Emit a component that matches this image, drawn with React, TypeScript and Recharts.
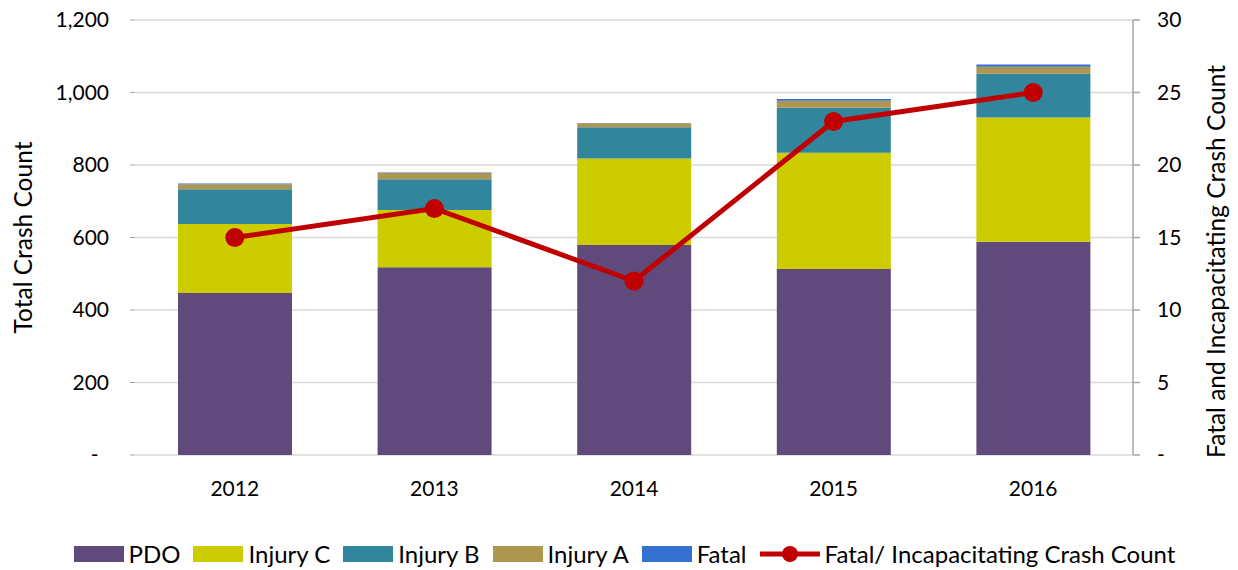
import {
  ComposedChart,
  Bar,
  Line,
  XAxis,
  YAxis,
  CartesianGrid,
  Legend,
} from 'recharts';

const years = ['2012', '2013', '2014', '2015', '2016'];
const pdo = [447, 518, 579, 513, 588];
const injuryC = [190, 158, 239, 321, 343];
const injuryB = [96, 85, 86, 124, 121];
const injuryA = [14, 17, 11, 19, 19];
const fatal = [2, 1, 1, 5, 6];
const fatalIncap = [15, 17, 12, 23, 25];

const leftTicks = [0, 200, 400, 600, 800, 1000, 1200];
const rightTicks = [0, 5, 10, 15, 20, 25, 30];
const boundTicks = [0, 1, 2, 3, 4, 5];

const FONT = 'Lato, "Open Sans", sans-serif';
const AXIS_GRAY = '#A6A6A6';
const GRID_GRAY = '#D9D9D9';

const barSeries = [
  { key: 'pdo', name: 'PDO', color: '#604A7B' },
  { key: 'injuryC', name: 'Injury C', color: '#CCCC00' },
  { key: 'injuryB', name: 'Injury B', color: '#31859C' },
  { key: 'injuryA', name: 'Injury A', color: '#AC9650' },
  { key: 'fatal', name: 'Fatal', color: '#3370D0' },
];
const lineColor = '#C00000';
const lineName = 'Fatal/ Incapacitating Crash Count';

const data = years.map((year, i) => ({
  year,
  pdo: pdo[i],
  injuryC: injuryC[i],
  injuryB: injuryB[i],
  injuryA: injuryA[i],
  fatal: fatal[i],
  fatalIncap: fatalIncap[i],
}));

const tickStyle = { fontSize: 21, fill: '#000', fontFamily: FONT };

function dashZero(v: number) {
  return v === 0 ? '-\u2002' : v.toLocaleString('en-US');
}

function SideLabel({ viewBox, value, dx, dy }: any) {
  const cx = viewBox.x + dx;
  const cy = viewBox.y + viewBox.height / 2 + (dy || 0);
  return (
    <text
      x={cx}
      y={cy}
      transform={`rotate(-90, ${cx}, ${cy})`}
      textAnchor="middle"
      dominantBaseline="central"
      style={{ fontSize: 24.5, fontFamily: FONT, fill: '#000' }}
    >
      {value}
    </text>
  );
}

function LegendContent() {
  const item = { display: 'flex', alignItems: 'center', marginRight: 13 } as const;
  return (
    <div
      style={{
        display: 'flex',
        justifyContent: 'center',
        alignItems: 'center',
        height: 55,
        paddingTop: 22,
        boxSizing: 'border-box',
        fontFamily: FONT,
        fontSize: 24,
        color: '#000',
        paddingLeft: 24,
        whiteSpace: 'nowrap',
      }}
    >
      {barSeries.map((s) => (
        <div key={s.key} style={item}>
          <span style={{ width: 50, height: 16, background: s.color, marginRight: 5 }} />
          <span>{s.name}</span>
        </div>
      ))}
      <div style={item}>
        <svg width={60} height={20} style={{ marginRight: 5 }}>
          <line x1={0} y1={10} x2={60} y2={10} stroke={lineColor} strokeWidth={5} />
          <circle cx={30} cy={10} r={8} fill={lineColor} />
        </svg>
        <span>{lineName}</span>
      </div>
    </div>
  );
}

export default function App() {
  return (
    <div style={{ position: 'absolute', left: 0, top: 0, background: '#fff' }}>
      <ComposedChart
        width={1238}
        height={570}
        data={data}
        margin={{ top: 20, right: 0, left: 0, bottom: 0 }}
      >
        <CartesianGrid
          yAxisId="left"
          vertical={false}
          stroke={GRID_GRAY}
          strokeWidth={1.5}
        />
        <XAxis
          xAxisId="bounds"
          type="number"
          dataKey={() => 0}
          domain={[0, years.length]}
          ticks={boundTicks}
          tick={false}
          height={0}
          axisLine={{ stroke: AXIS_GRAY, strokeWidth: 1.5 }}
          tickLine={{ stroke: AXIS_GRAY, strokeWidth: 1.5 }}
          tickSize={7}
        />
        <XAxis
          dataKey="year"
          height={60}
          axisLine={false}
          tickLine={false}
          tickMargin={20}
          tick={tickStyle}
        />
        <YAxis
          yAxisId="left"
          width={135}
          domain={[0, 1200]}
          ticks={leftTicks}
          tickFormatter={dashZero}
          axisLine={false}
          tickLine={{ stroke: AXIS_GRAY }}
          tickSize={5}
          tickMargin={21}
          tick={tickStyle}
          label={<SideLabel value="Total Crash Count" dx={22} />}
        />
        <YAxis
          yAxisId="right"
          orientation="right"
          width={105}
          domain={[0, 30]}
          ticks={rightTicks}
          tickFormatter={(v: number) => (v === 0 ? '-' : String(v))}
          axisLine={{ stroke: AXIS_GRAY, strokeWidth: 1.5 }}
          tickLine={{ stroke: AXIS_GRAY, strokeWidth: 1.5 }}
          tickSize={7}
          tickMargin={17}
          tick={{ ...tickStyle, textAnchor: 'start' }}
          label={<SideLabel value="Fatal and Incapacitating Crash Count" dx={82} dy={24} />}
        />
        {barSeries.map((s) => (
          <Bar
            key={s.key}
            yAxisId="left"
            dataKey={s.key}
            name={s.name}
            stackId="crash"
            fill={s.color}
            barSize={114}
            isAnimationActive={false}
          />
        ))}
        <Line
          yAxisId="right"
          dataKey="fatalIncap"
          name={lineName}
          stroke={lineColor}
          strokeWidth={5}
          dot={{ r: 9.5, fill: lineColor, stroke: lineColor, strokeWidth: 0 }}
          activeDot={false}
          isAnimationActive={false}
        />
        <Legend verticalAlign="bottom" height={55} content={<LegendContent />} />
      </ComposedChart>
    </div>
  );
}
